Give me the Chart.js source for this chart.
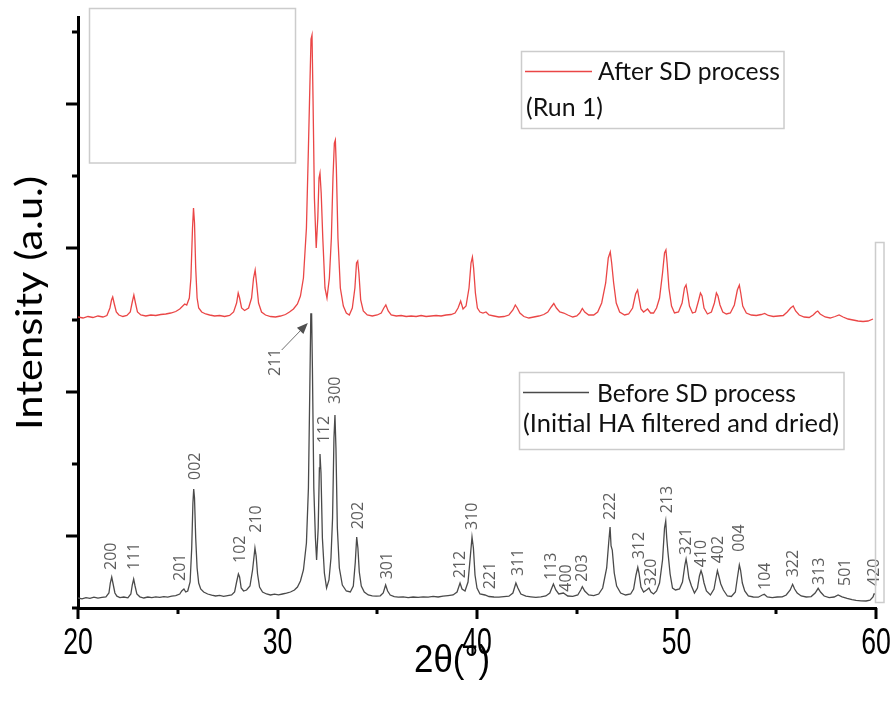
<!DOCTYPE html>
<html>
<head>
<meta charset="utf-8">
<script src="https://cdn.jsdelivr.net/npm/chart.js@4.4.1/dist/chart.umd.min.js"></script>
<style>
  html, body { margin: 0; padding: 0; background: #fff; }
  #xrd { display: block; }
</style>
</head>
<body>
<canvas id="xrd" width="896" height="706"></canvas>
<script>
// 2theta / intensity (a.u.), before SD (initial HA)
const beforeX = [20.00,20.20,20.40,20.60,20.80,21.00,21.20,21.40,21.55,21.62,21.69,21.76,21.85,21.95,22.10,22.30,22.50,22.65,22.72,22.79,22.86,22.95,23.10,23.30,23.50,23.70,23.90,24.10,24.30,24.50,24.70,24.90,25.10,25.20,25.31,25.40,25.50,25.62,25.70,25.76,25.80,25.84,25.90,25.97,26.05,26.15,26.30,26.50,26.70,26.90,27.10,27.30,27.50,27.70,27.85,27.95,28.04,28.10,28.18,28.30,28.45,28.62,28.75,28.87,28.93,29.00,29.10,29.25,29.45,29.65,29.85,30.05,30.25,30.45,30.65,30.85,31.00,31.15,31.30,31.45,31.55,31.62,31.67,31.71,31.75,31.82,31.90,31.96,32.04,32.10,32.13,32.18,32.25,32.35,32.46,32.58,32.68,32.76,32.83,32.88,32.93,33.00,33.10,33.25,33.45,33.65,33.80,33.90,33.97,34.03,34.10,34.20,34.35,34.55,34.75,34.95,35.15,35.30,35.42,35.52,35.65,35.85,36.05,36.30,36.55,36.80,37.05,37.30,37.55,37.80,38.05,38.30,38.55,38.80,39.00,39.15,39.25,39.40,39.55,39.65,39.75,39.82,39.90,40.00,40.15,40.40,40.60,40.85,41.10,41.35,41.60,41.80,41.95,42.05,42.20,42.45,42.70,42.95,43.20,43.45,43.65,43.83,43.95,44.10,44.33,44.55,44.80,45.05,45.20,45.28,45.40,45.60,45.85,46.10,46.30,46.50,46.60,46.67,46.72,46.78,46.88,47.00,47.20,47.45,47.70,47.85,47.97,48.06,48.12,48.22,48.35,48.50,48.62,48.72,48.85,49.00,49.15,49.30,49.40,49.46,49.51,49.57,49.68,49.80,49.95,50.15,50.30,50.42,50.48,50.54,50.62,50.75,50.90,51.05,51.15,51.23,51.30,51.38,51.50,51.70,51.88,51.98,52.05,52.12,52.22,52.35,52.55,52.75,52.95,53.05,53.15,53.21,53.30,53.42,53.60,53.85,54.10,54.30,54.40,54.55,54.80,55.05,55.30,55.50,55.70,55.82,55.92,56.05,56.25,56.50,56.75,56.95,57.10,57.22,57.40,57.65,57.90,58.10,58.30,58.55,58.80,59.00,59.25,59.50,59.70,59.85,59.90,60.00];
const beforeY = [100,92,104,96,108,98,106,112,150,250,310,240,150,118,104,110,102,140,230,290,220,140,112,100,110,104,112,106,114,108,118,124,140,170,190,160,170,260,600,1050,1190,1100,700,400,250,190,160,140,128,120,126,116,124,130,160,260,340,310,200,170,180,220,380,600,520,340,210,160,140,130,138,132,140,148,160,180,210,270,380,650,1200,2200,2940,2940,2400,1200,700,480,800,1400,1540,1350,700,350,200,280,500,900,1700,1930,1600,800,400,230,170,160,220,460,710,600,360,220,160,130,122,118,122,150,230,170,130,114,108,112,104,110,106,112,108,116,110,118,124,130,160,250,190,170,260,480,710,600,330,200,140,130,115,110,108,114,118,150,250,200,140,118,112,106,112,120,150,240,180,140,150,120,116,130,180,213,170,130,124,140,200,400,650,810,620,580,350,220,150,130,140,190,330,407,350,210,160,180,200,160,140,170,250,480,800,870,700,560,340,200,180,190,260,430,490,420,300,220,150,200,320,373,330,250,170,130,190,300,373,320,240,180,120,115,160,300,430,380,250,170,120,110,108,130,137,110,104,110,112,130,180,237,190,150,120,110,114,150,197,160,120,104,110,130,112,96,84,76,72,70,78,110,140,140];

// after SD process (run 1)
const afterX = [20.00,20.25,20.50,20.75,21.00,21.25,21.45,21.60,21.68,21.74,21.82,21.92,22.05,22.25,22.45,22.62,22.72,22.80,22.88,22.98,23.15,23.40,23.65,23.90,24.15,24.40,24.65,24.90,25.10,25.25,25.35,25.45,25.58,25.66,25.74,25.79,25.84,25.90,25.97,26.05,26.20,26.40,26.60,26.85,27.10,27.35,27.60,27.80,27.95,28.03,28.10,28.20,28.35,28.55,28.70,28.80,28.88,28.95,29.05,29.20,29.40,29.65,29.90,30.15,30.40,30.60,30.80,31.00,31.15,31.30,31.45,31.55,31.62,31.68,31.73,31.78,31.85,31.94,32.02,32.08,32.13,32.19,32.27,32.38,32.48,32.60,32.70,32.78,32.85,32.90,32.95,33.03,33.15,33.30,33.45,33.60,33.75,33.88,33.96,34.02,34.08,34.17,34.30,34.50,34.75,35.00,35.20,35.33,35.43,35.55,35.70,35.95,36.20,36.45,36.70,36.95,37.20,37.45,37.70,37.95,38.20,38.45,38.70,38.90,39.05,39.18,39.30,39.45,39.60,39.70,39.77,39.83,39.92,40.02,40.15,40.30,40.45,40.60,40.85,41.10,41.35,41.60,41.80,41.92,42.02,42.15,42.35,42.60,42.85,43.10,43.35,43.55,43.72,43.85,43.98,44.15,44.35,44.55,44.80,45.00,45.15,45.28,45.40,45.60,45.85,46.05,46.25,46.45,46.58,46.68,46.75,46.85,46.98,47.15,47.40,47.60,47.80,47.95,48.05,48.12,48.22,48.35,48.55,48.70,48.85,49.00,49.15,49.30,49.40,49.47,49.53,49.62,49.75,49.90,50.10,50.28,50.40,50.48,50.55,50.65,50.80,50.95,51.10,51.20,51.28,51.38,51.55,51.75,51.90,52.00,52.08,52.18,52.32,52.50,52.70,52.90,53.05,53.15,53.22,53.32,53.50,53.75,54.00,54.25,54.42,54.60,54.85,55.10,55.35,55.55,55.72,55.85,55.97,56.15,56.40,56.65,56.85,57.00,57.08,57.20,57.45,57.70,57.95,58.15,58.35,58.60,58.85,59.10,59.35,59.60,59.85];
const afterY = [2910,2900,2915,2905,2920,2910,2925,3000,3080,3110,3040,2960,2930,2915,2925,2960,3060,3130,3050,2960,2930,2920,2930,2925,2935,2940,2950,2965,2990,3020,3040,3030,3100,3300,3800,4000,3850,3400,3100,3000,2960,2940,2930,2920,2925,2915,2925,2960,3050,3150,3100,3000,2975,3000,3100,3300,3380,3250,3050,2960,2930,2915,2910,2920,2935,2960,2990,3040,3120,3300,3800,4600,5200,5690,5730,5100,4100,3600,3900,4300,4350,4150,3700,3200,3100,3300,3700,4300,4650,4680,4400,3700,3200,3020,2950,2930,3000,3200,3450,3470,3350,3080,2970,2930,2920,2930,2950,3000,3030,2970,2930,2920,2925,2915,2920,2915,2925,2915,2920,2925,2920,2930,2935,2950,3000,3070,2990,3020,3200,3450,3510,3400,3150,3000,2960,2950,2960,2930,2920,2910,2915,2930,2980,3030,3000,2950,2915,2900,2910,2920,2935,2960,3010,3045,3000,2960,2950,2930,2910,2920,2950,2995,2960,2930,2930,2960,3050,3250,3500,3560,3450,3250,3050,2960,2930,2940,3000,3140,3180,3100,2990,2960,2990,2950,2950,3000,3100,3350,3550,3580,3450,3200,3020,2950,2960,3050,3200,3230,3150,3020,2950,2960,3070,3150,3120,3000,2940,2960,3050,3150,3120,3030,2960,2940,2950,3030,3180,3230,3150,3020,2950,2930,2925,2935,2945,2925,2915,2920,2925,2960,3000,3020,2970,2930,2910,2905,2930,2960,2970,2940,2910,2900,2915,2930,2910,2890,2880,2870,2865,2870,2890];

// hkl annotations on the initial HA pattern (position, height of label start)
const hklText = ['200','111','201','002','102','210','211','112','300','202','301','212','310','221','311','113','400','203','222','312','320','213','321','410','402','004','104','322','313','501','420'];
const hklX = [21.69,22.84,25.11,25.90,28.16,28.96,29.91,32.33,32.92,34.05,35.50,39.15,39.78,40.65,42.07,43.74,44.46,45.30,46.67,48.14,48.76,49.54,50.48,51.23,52.09,53.15,54.44,55.85,57.16,58.45,59.90];
const hklY = [380,380,270,1280,450,753,2320,1647,2040,787,287,297,780,187,320,280,163,263,880,487,220,947,530,407,447,563,180,307,230,220,220];
// arrow from the 211 label to its peak
const arrowFrom = [30.21, 2580];
const arrowTo = [31.52, 2850];

const xMajor = [20, 30, 40, 50, 60];
const xMinor = [25, 35, 45, 55];
const yMajor = [720, 2160, 3600, 5040];
const yMinor = [0, 1440, 2880, 4320, 5760];

const redLine = 'rgba(232, 50, 50, 0.9)';
const greyLine = '#4a4a4a';

function toPoints(xs, ys) {
    return xs.map((x, i) => ({ x: x, y: ys[i] }));
}

// draws text squeezed/stretched along its run to a given width
function fitText(ctx, text, x, y, width) {
    const k = width / ctx.measureText(text).width;
    ctx.save();
    ctx.translate(x, y);
    ctx.scale(k, 1);
    ctx.fillText(text, 0, 0);
    ctx.restore();
}

// tick marks (long major, short minor, outward), tick labels and axis titles
const axisDecor = {
    id: 'axisDecor',
    afterDraw(chart) {
        const ctx = chart.ctx;
        const xs = chart.scales.x;
        const ys = chart.scales.y;
        const area = chart.chartArea;
        ctx.save();
        ctx.strokeStyle = '#000';
        ctx.lineWidth = 3;
        ctx.beginPath();
        xMajor.forEach(v => {
            const px = Math.round(xs.getPixelForValue(v));
            ctx.moveTo(px, area.bottom);
            ctx.lineTo(px, area.bottom + 11);
        });
        xMinor.forEach(v => {
            const px = Math.round(xs.getPixelForValue(v));
            ctx.moveTo(px, area.bottom);
            ctx.lineTo(px, area.bottom + 6);
        });
        yMajor.forEach(v => {
            const py = Math.round(ys.getPixelForValue(v));
            ctx.moveTo(area.left, py);
            ctx.lineTo(area.left - 12, py);
        });
        yMinor.forEach(v => {
            const py = Math.round(ys.getPixelForValue(v));
            ctx.moveTo(area.left, py);
            ctx.lineTo(area.left - 6, py);
        });
        ctx.stroke();

        // x tick labels, condensed like the original
        ctx.fillStyle = '#000';
        ctx.font = '36px "Liberation Sans", sans-serif';
        ctx.textAlign = 'center';
        ctx.textBaseline = 'alphabetic';
        xMajor.forEach(v => {
            ctx.save();
            ctx.translate(xs.getPixelForValue(v), area.bottom + 46);
            ctx.scale(0.74, 1);
            ctx.fillText(String(v), 0, 0);
            ctx.restore();
        });

        // x title
        ctx.font = '38px "Liberation Sans", sans-serif';
        fitText(ctx, '2θ(°)', 452, 672, 76);

        // y title
        ctx.font = '36px Lato, "Open Sans", sans-serif';
        ctx.textAlign = 'left';
        ctx.save();
        ctx.translate(42, 430);
        ctx.rotate(-Math.PI / 2);
        fitText(ctx, 'Intensity (a.u.)', 0, 0, 254);
        ctx.restore();
        ctx.restore();
    }
};

// hkl labels + arrow
const hklLabels = {
    id: 'hklLabels',
    afterDatasetsDraw(chart) {
        const ctx = chart.ctx;
        const xs = chart.scales.x;
        const ys = chart.scales.y;
        ctx.save();
        ctx.fillStyle = '#5e5e5e';
        ctx.font = '16px "Open Sans", sans-serif';
        ctx.textAlign = 'left';
        ctx.textBaseline = 'middle';
        hklText.forEach((t, i) => {
            ctx.save();
            ctx.translate(xs.getPixelForValue(hklX[i]), ys.getPixelForValue(hklY[i]));
            ctx.rotate(-Math.PI / 2);
            ctx.fillText(t, 0, 0);
            ctx.restore();
        });
        const x0 = xs.getPixelForValue(arrowFrom[0]), y0 = ys.getPixelForValue(arrowFrom[1]);
        const x1 = xs.getPixelForValue(arrowTo[0]), y1 = ys.getPixelForValue(arrowTo[1]);
        const ang = Math.atan2(y1 - y0, x1 - x0);
        ctx.strokeStyle = '#707070';
        ctx.lineWidth = 1;
        ctx.beginPath();
        ctx.moveTo(x0, y0);
        ctx.lineTo(x1 - 8 * Math.cos(ang), y1 - 8 * Math.sin(ang));
        ctx.stroke();
        ctx.fillStyle = '#505050';
        ctx.beginPath();
        ctx.moveTo(x1, y1);
        ctx.lineTo(x1 - 11 * Math.cos(ang) + 4.5 * Math.sin(ang), y1 - 11 * Math.sin(ang) - 4.5 * Math.cos(ang));
        ctx.lineTo(x1 - 11 * Math.cos(ang) - 4.5 * Math.sin(ang), y1 - 11 * Math.sin(ang) + 4.5 * Math.cos(ang));
        ctx.closePath();
        ctx.fill();
        ctx.restore();
    }
};

// the two framed legends and the leftover empty frames of the original figure
const frames = {
    id: 'frames',
    afterDraw(chart) {
        const ctx = chart.ctx;
        ctx.save();
        ctx.strokeStyle = '#cccccc';
        ctx.lineWidth = 1.5;
        ctx.strokeRect(89.5, 8.5, 206, 154.5);
        ctx.strokeRect(875.5, 242.5, 8.5, 360);
        ctx.strokeRect(521.5, 51.5, 262.5, 77);
        ctx.strokeRect(519.5, 372.5, 324.5, 77);

        ctx.lineWidth = 1.3;
        ctx.strokeStyle = redLine;
        ctx.beginPath();
        ctx.moveTo(525, 71.5);
        ctx.lineTo(592, 71.5);
        ctx.stroke();
        ctx.strokeStyle = greyLine;
        ctx.beginPath();
        ctx.moveTo(523, 392.5);
        ctx.lineTo(589, 392.5);
        ctx.stroke();

        ctx.fillStyle = '#111';
        ctx.font = '25px Lato, "Open Sans", sans-serif';
        ctx.textAlign = 'left';
        ctx.textBaseline = 'alphabetic';
        fitText(ctx, 'After SD process', 598, 80, 182);
        fitText(ctx, '(Run 1)', 526, 116, 77);
        fitText(ctx, 'Before SD process', 597, 402, 199);
        fitText(ctx, '(Initial HA filtered and dried)', 523, 432, 316);
        ctx.restore();
    }
};

const chart = new Chart(document.getElementById('xrd'), {
    type: 'line',
    data: {
        datasets: [
            {
                label: 'Before SD process (Initial HA filtered and dried)',
                data: toPoints(beforeX, beforeY),
                borderColor: greyLine,
                borderWidth: 1.3,
                pointRadius: 0,
                tension: 0,
            },
            {
                label: 'After SD process (Run 1)',
                data: toPoints(afterX, afterY),
                borderColor: redLine,
                borderWidth: 1.3,
                pointRadius: 0,
                tension: 0,
            },
        ],
    },
    options: {
        responsive: false,
        animation: false,
        devicePixelRatio: 1,
        layout: { padding: { top: 17, right: 20, left: 0, bottom: 0 } },
        plugins: {
            legend: { display: false },
            tooltip: { enabled: false },
        },
        scales: {
            x: {
                type: 'linear',
                min: 20,
                max: 60,
                grid: { display: false, drawTicks: false },
                border: { display: true, width: 3, color: '#000' },
                ticks: { display: false, stepSize: 10 },
                afterFit(scale) { scale.height = 98; },
            },
            y: {
                type: 'linear',
                min: 0,
                max: 5910,
                grid: { display: false, drawTicks: false },
                border: { display: true, width: 3, color: '#000' },
                ticks: { display: false },
                afterFit(scale) { scale.width = 78; },
            },
        },
    },
    plugins: [frames, hklLabels, axisDecor],
});
</script>
</body>
</html>
